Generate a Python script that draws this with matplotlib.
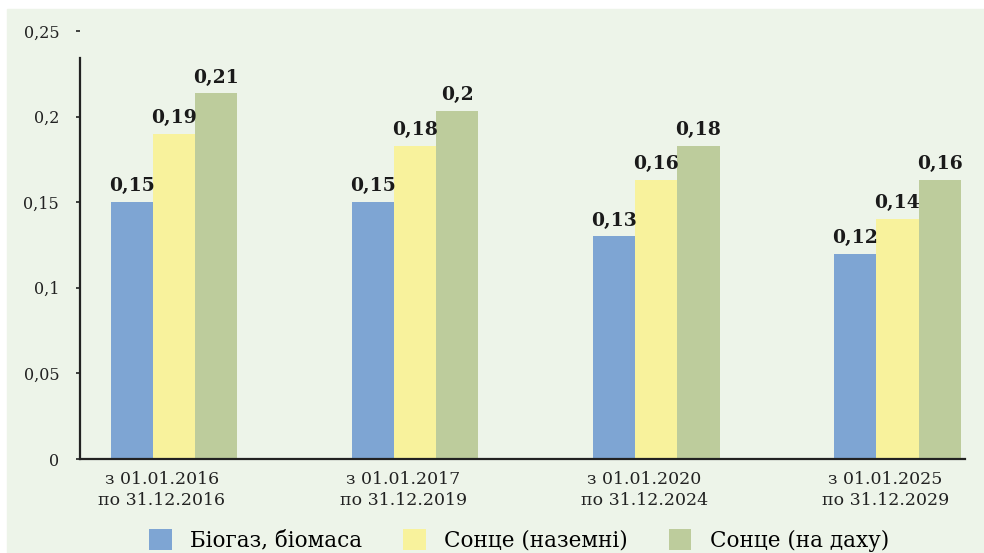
import matplotlib.pyplot as plt
from matplotlib.patches import Rectangle
import numpy

periods = ["з 01.01.2016\nпо 31.12.2016", "з 01.01.2017\nпо 31.12.2019",
           "з 01.01.2020\nпо 31.12.2024", "з 01.01.2025\nпо 31.12.2029"]
series_names = ["Біогаз, біомаса", "Сонце (наземні)", "Сонце (на даху)"]
biogas = [0.15, 0.15, 0.13, 0.12]
sun_ground = [0.19, 0.183, 0.163, 0.14]
sun_roof = [0.2135, 0.2035, 0.183, 0.163]
biogas_labels = ["0,15", "0,15", "0,13", "0,12"]
sun_ground_labels = ["0,19", "0,18", "0,16", "0,14"]
sun_roof_labels = ["0,21", "0,2", "0,18", "0,16"]
y_ticks = [0, 0.05, 0.1, 0.15, 0.2, 0.25]
y_tick_labels = ["0", "0,05", "0,1", "0,15", "0,2", "0,25"]

colors = ["#7ea5d3", "#f8f29c", "#bdcc9c"]
bg = "#edf4e9"

plt.rcParams['font.family'] = ['DejaVu Serif']

fig = plt.figure(figsize=(9.84, 5.53), dpi=100)
fig.patch.set_facecolor("white")
fig.add_artist(Rectangle((7 / 984, 0), 1, 544 / 553, transform=fig.transFigure,
                         color=bg, zorder=-10))

ax = fig.add_axes([80 / 984, 1 - 459 / 553, 885 / 984, 428 / 553])
ax.set_facecolor("none")

x = numpy.arange(len(periods))
width = 0.175
all_values = [biogas, sun_ground, sun_roof]
all_labels = [biogas_labels, sun_ground_labels, sun_roof_labels]
for i, (vals, labs) in enumerate(zip(all_values, all_labels)):
    pos = x + (i - 1) * width
    ax.bar(pos, vals, width=width, color=colors[i], label=series_names[i])
    for px, v, lab in zip(pos, vals, labs):
        ax.text(px, v + 0.004, lab, ha="center", va="bottom", fontsize=13.5,
                fontweight="bold", color="#1a1a1a")

ax.set_xlim(-0.39, 3.28)
ax.set_ylim(0, 0.25)
ax.set_yticks(y_ticks)
ax.set_yticklabels(y_tick_labels, fontsize=11.5, color="#222222")
ax.set_xticks(x - 0.05)
ax.set_xticklabels(periods, fontsize=12.5, color="#222222", linespacing=1.3)
ax.tick_params(axis="x", length=0, pad=9)
ax.tick_params(axis="y", length=3, width=1.2, pad=12, color="#222222")

for side in ["top", "right"]:
    ax.spines[side].set_visible(False)
ax.spines["left"].set_bounds(0, 0.2345)
ax.spines["left"].set_linewidth(1.6)
ax.spines["left"].set_color("#222222")
ax.spines["bottom"].set_linewidth(1.6)
ax.spines["bottom"].set_color("#222222")

ax.legend(loc="center", bbox_to_anchor=(0.496, -0.19), ncol=3, frameon=False,
          fontsize=15.5, handlelength=1.05, handleheight=1.1, columnspacing=1.9,
          handletextpad=0.85)

plt.savefig("out.png", dpi=100, facecolor=fig.get_facecolor())
